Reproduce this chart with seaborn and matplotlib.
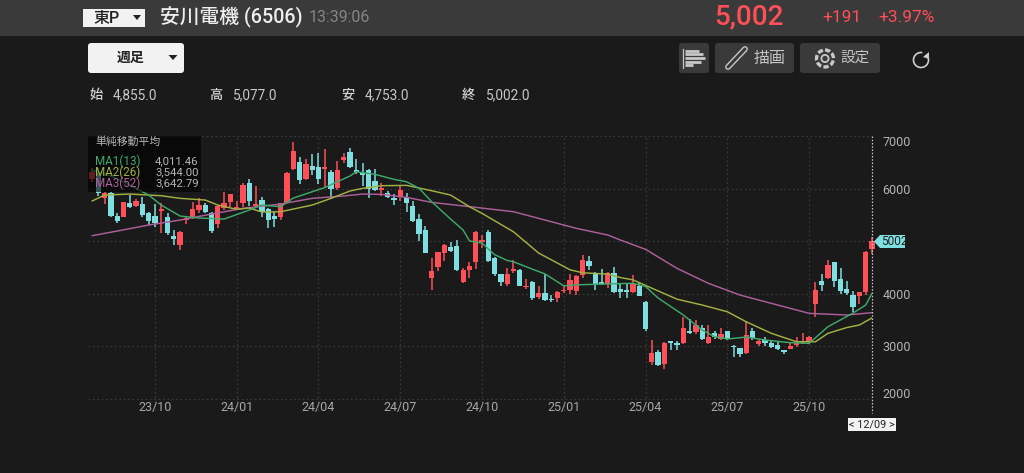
import numpy as np
import pandas as pd
import seaborn as sns
import matplotlib
matplotlib.use("Agg")
import matplotlib.pyplot as plt
from matplotlib.patches import Rectangle, FancyBboxPatch, Polygon, Arc, Circle
from matplotlib.transforms import ScaledTranslation

# ---- weekly candles (open, high, low, close) ----
opens = [6176,6296,5815,5910,5479,5466,5732,5670,5707,5530,5479,5575,5454,5105,4929,5403,5447,5593,5688,5542,
         5320,5636,5745,5605,5720,6112,5675,5783,5612,5479,5466,5732,6366,6510,6182,6435,6410,6378,6320,6017,
         6543,6701,6347,6277,6353,6144,5973,5910,5808,5834,5846,5669,5416,5219,4298,4510,4775,4892,4916,4222,
         4450,4610,4980,5169,4680,4373,4184,4437,4455,4127,4233,3937,4013,3905,3918,4051,4076,4057,4361,4625,
         4393,4222,4184,4393,4095,4070,4044,4140,3848,2697,2889,2670,3088,3070,3068,3296,3272,3360,3074,3253,
         3150,3285,3009,2965,2870,3294,3047,3123,3060,3028,2920,2952,3022,3060,3110,3807,4244,4295,4599,4282,
         4092,3983,3959,4029,4855]
highs = [6390,6390,5940,5930,5536,5745,5878,5796,5846,5560,5707,5720,5530,5213,5190,5479,5751,5815,5720,5560,
         5690,5929,5900,5770,6112,6176,6049,5846,5640,5550,5730,6310,6879,6595,6562,6650,6670,6759,6353,6524,
         6670,6777,6562,6480,6370,6372,6100,5954,5891,6068,5922,5764,5517,5289,4678,4800,4940,4986,5030,4500,
         4602,5200,5118,5210,4700,4385,4500,4645,4470,4285,4250,4152,4373,3981,4055,4140,4380,4360,4740,4727,
         4410,4470,4420,4520,4190,4203,4361,4203,3860,3120,2926,3080,3095,3107,3551,3520,3510,3400,3404,3296,
         3360,3300,3020,2975,3493,3357,3136,3186,3110,3079,2925,3060,3174,3262,3190,4220,4371,4643,4610,4497,
         4244,4054,4040,4820,5077]
lows = [6125,5860,5707,5454,5340,5460,5637,5650,5454,5308,5276,5150,5118,4929,4833,5320,5430,5542,5530,5150,
        5245,5593,5656,5593,5656,5675,5656,5466,5245,5264,5403,5720,6353,6087,6170,6258,6087,6017,5796,5973,
        6480,6391,6271,6055,5815,5950,5865,5815,5688,5771,5561,5360,5004,4770,4076,4437,4626,4795,4430,4210,
        4310,4472,4868,4610,4347,4152,4152,4393,4140,4095,3880,3905,3870,3842,3854,4025,3994,3981,4310,4455,
        4076,4170,4108,4013,3930,3930,4025,3950,3292,2650,2623,2580,2926,2937,3050,3230,3240,3130,3040,3150,
        3130,3130,2806,2800,2850,3123,3009,3015,2965,2940,2851,2945,2996,3040,3047,3554,4060,4280,4136,3991,
        3978,3661,3807,3978,4753]
closes = [6320,5910,5910,5479,5390,5739,5656,5764,5498,5390,5352,5607,5150,5036,5181,5436,5606,5688,5561,5200,
          5675,5720,5890,5656,6068,5770,5688,5550,5403,5422,5720,6302,6714,6163,6467,6347,6176,6416,5987,6353,
          6593,6416,6309,6258,5992,5973,6005,5846,5790,5973,5726,5384,5131,4782,4437,4789,4929,4816,4450,4450,
          4532,5168,5025,4625,4380,4233,4373,4475,4152,4152,3918,4013,3886,3880,4044,4076,4266,4347,4640,4537,
          4171,4184,4404,4032,4044,4044,4190,3962,3341,2875,2655,3068,3070,3020,3360,3253,3404,3150,3189,3180,
          3240,3150,2984,2857,3218,3167,3104,3060,2996,2958,2900,3015,3060,3110,3174,4073,4168,4548,4244,4054,
          4022,3758,4029,4789,5002]

ma1_weeks = [0,3,6,9,11,14,17,21,25,27,30,32,37,41,42,45,48,50,52,54,57,59,60,62,64,66,67,70,72,75,77,82,86,88,90,94,97,99,101,104,107,111,114,117,121,123,124]
ma1_vals = [6353,6240,6068,5878,5688,5479,5441,5422,5593,5688,5656,5821,6020,6240,6321,6271,6176,6131,6005,5751,5422,5213,5006,4966,4744,4636,4610,4470,4380,4152,4171,4190,4200,4140,3921,3598,3313,3186,3142,3180,3123,3072,3060,3376,3636,3788,4011]
ma2_weeks = [0,2,6,11,14,18,20,23,25,27,30,35,38,41,43,46,50,54,57,60,62,67,71,76,78,82,84,86,89,93,97,101,104,108,112,115,117,120,122,124]
ma2_vals = [5764,5878,5897,5865,5815,5783,5688,5606,5631,5555,5561,5688,5815,5954,6005,6055,6062,5960,5878,5656,5530,5180,4776,4457,4400,4375,4310,4266,4108,3899,3788,3660,3470,3250,3090,3090,3250,3360,3408,3544]
ma3_weeks = [0,4,9,14,19,24,30,35,40,43,46,50,54,61,67,71,77,82,84,88,93,98,103,107,114,120,124]
ma3_vals = [5105,5194,5308,5403,5517,5625,5707,5815,5860,5897,5891,5834,5739,5644,5561,5435,5245,5118,5023,4846,4485,4200,3978,3851,3630,3598,3643]

x_tick_weeks = [10,23,36,49,62,75,88,101,114]
x_tick_labels = ["23/10","24/01","24/04","24/07","24/10","25/01","25/04","25/07","25/10"]
y_ticks = [2000,3000,4000,5000,6000,7000]
y_tick_labels = ["2000","3000","4000","","6000","7000"]

BG = "#1a1a1a"; BAR = "#3a3a3a"; RED = "#ff4f58"; CYAN = "#7fdfe0"
GREEN = "#3fa86c"; OLIVE = "#a3b043"; PINK = "#ad5f9b"; GRID = "#383838"

sns.set_theme(style="dark")
plt.rcParams['font.family'] = ['Roboto', 'Noto Sans CJK JP', 'DejaVu Sans']

W, H = 1024, 473
fig = plt.figure(figsize=(W/100, H/100), dpi=100, facecolor=BG)
L, R, T, B = 88, 872, 136, 411
ax = fig.add_axes([L/W, 1-B/H, (R-L)/W, (B-T)/H], facecolor=BG)

df = pd.DataFrame({"week": np.arange(len(opens)), "open": opens, "high": highs, "low": lows, "close": closes})
up = df.close >= df.open
colors = np.where(up, RED, CYAN)

ax.vlines(df.week, df.low, df.high, colors=colors, lw=1.1, zorder=3, clip_on=False)
bottoms = df[["open", "close"]].min(axis=1)
heights = (df.close - df.open).abs().clip(lower=30)
ax.bar(df.week, heights, bottom=bottoms, width=0.84, color=colors, lw=0, zorder=4, clip_on=False)

for wk, vals, col in [(ma3_weeks, ma3_vals, PINK), (ma2_weeks, ma2_vals, OLIVE), (ma1_weeks, ma1_vals, GREEN)]:
    sns.lineplot(x=wk, y=vals, ax=ax, color=col, lw=1.05, zorder=5, legend=False, estimator=None, sort=False)

ax.set_xlim(-0.64, 124)
ax.set_ylim(1774, 7000)
ax.set_xticks(x_tick_weeks)
ax.set_xticklabels(x_tick_labels, color="#a8a8a8", fontsize=9)
ax.yaxis.tick_right()
ax.set_yticks(y_ticks)
ax.set_yticklabels(y_tick_labels, color="#b4b4b4", fontsize=9)
ax.tick_params(axis="x", length=0, pad=-7.5)
ax.tick_params(axis="y", length=0, pad=7.5)
ylabs = ax.get_yticklabels()
ylabs[0].set_va("bottom")
ylabs[-1].set_va("top")
ylabs[0].set_transform(ylabs[0].get_transform() + ScaledTranslation(0, -1.5/72, fig.dpi_scale_trans))
ax.grid(True, color=GRID, lw=0.9, ls=(0, (1.5, 2)))
ax.set_axisbelow(True)
for s in ax.spines.values():
    s.set_visible(False)
ax.set_xlabel(""); ax.set_ylabel("")

# ---- overlay in screen pixels for the app chrome ----
ui = fig.add_axes([0, 0, 1, 1], facecolor="none", zorder=10)
ui.set_xlim(0, W); ui.set_ylim(H, 0); ui.axis("off")

def txt(x, y, s, size, color, ha="left", weight="normal"):
    ui.text(x, y, s, fontsize=size, color=color, ha=ha, va="center", fontweight=weight, zorder=8)

def box(x0, y0, x1, y1, color, r=2.5, z=1, alpha=1):
    ui.add_patch(FancyBboxPatch((x0+r, y0+r), x1-x0-2*r, y1-y0-2*r, boxstyle=f"round,pad={r},rounding_size={r}",
                                fc=color, ec="none", zorder=z, alpha=alpha))

def tri(cx, cy, w, h, color):
    ui.add_patch(Polygon([(cx-w/2, cy-h/2), (cx+w/2, cy-h/2), (cx, cy+h/2)], fc=color, ec="none", zorder=3))

ui.add_patch(Rectangle((0, 0), W, 36, fc=BAR, ec="none", zorder=0))
ui.add_patch(Rectangle((83, 9), 62, 18, fc="#f2f2f2", ec="none", zorder=1))
txt(93, 18, "東P", 11.5, "#222222", weight="medium")
tri(137, 17.5, 8, 5, "#222222")
txt(160, 17, "安川電機 (6506)", 14.2, "#eeeeee", weight="medium")
txt(309, 18, "13:39:06", 11.5, "#858585")
txt(714, 17, "5,002", 20, RED, weight="medium")
txt(822, 18, "+191", 12.5, RED)
txt(878, 18, "+3.97%", 12.5, RED)

box(88, 43, 184, 73, "#f2f2f2", r=3)
txt(131, 58, "週足", 10, "#222222", ha="center", weight="bold")
tri(173, 57.5, 9, 5, "#222222")

for s, x, v, vx in [("始", 89, "4,855.0", 113), ("高", 209, "5,077.0", 233),
                    ("安", 341, "4,753.0", 365), ("終", 462, "5,002.0", 486)]:
    txt(x, 95, s, 9.5, "#d5d5d5", weight="medium")
    txt(vx, 95, v, 9.8, "#c8c8c8")

box(679, 43, 709, 73, BAR, r=3)
box(715, 43, 794, 73, BAR, r=3)
box(800, 43, 880, 73, BAR, r=3)
ui.plot([683, 683], [49, 68], color="#c8c8c8", lw=0.9, zorder=3)
for yy, xe in zip([51, 54.5, 58.5, 62, 65.5], [699, 703, 705, 701, 693]):
    ui.plot([685, xe], [yy, yy], color="#c8c8c8", lw=2.0, zorder=3, solid_capstyle="butt")
ui.plot([728, 745], [67, 49], color="#c8c8c8", lw=4.2, zorder=3, solid_capstyle="round")
ui.plot([728, 745], [67, 49], color=BAR, lw=2.2, zorder=4, solid_capstyle="round")
txt(770, 58, "描画", 11.5, "#c4c4c4", ha="center")
ui.add_patch(Circle((825, 58.5), 8.5, fc="none", ec="#c8c8c8", lw=2.4, ls=(0, (1.6, 0.7)), zorder=3))
ui.add_patch(Circle((825, 58.5), 3.6, fc="none", ec="#c8c8c8", lw=1.3, zorder=3))
txt(855, 58, "設定", 10.5, "#c4c4c4", ha="center")
ui.add_patch(Arc((921, 60), 15, 15, theta1=-40, theta2=280, ec="#d0d0d0", lw=1.2, zorder=3))
ui.add_patch(Polygon([(929, 52), (929, 59), (923, 57)], fc="#d0d0d0", ec="none", zorder=3))

# legend panel
ui.add_patch(Rectangle((88, 136), 113, 56, fc="#000000", ec="none", alpha=0.62, zorder=2))
txt(95, 142, "単純移動平均", 7.8, "#b8b8b8")
for y, lab, val, col in [(161, "MA1(13)", "4,011.46", GREEN), (172, "MA2(26)", "3,544.00", OLIVE), (183, "MA3(52)", "3,642.79", PINK)]:
    txt(95, y, lab, 8.4, col)
    txt(155, y, val, 8.2, "#b4b4b4")

# current price marker
ui.plot([872, 872], [136, 413], color="#c8c8c8", lw=0.9, ls=(0, (1.2, 1.4)), zorder=3)
ui.add_patch(Polygon([(874, 241.5), (880, 235), (905, 235), (905, 248), (880, 248)], fc=CYAN, ec="none", zorder=6))
txt(881, 241.5, "5002", 8.6, "#222222")
ui.add_patch(Rectangle((848, 418), 48, 13, fc="#f2f2f2", ec="none", zorder=6))
txt(872, 424, "< 12/09 >", 7.8, "#222222", ha="center")

fig.savefig("out.png", dpi=100, facecolor=BG)
